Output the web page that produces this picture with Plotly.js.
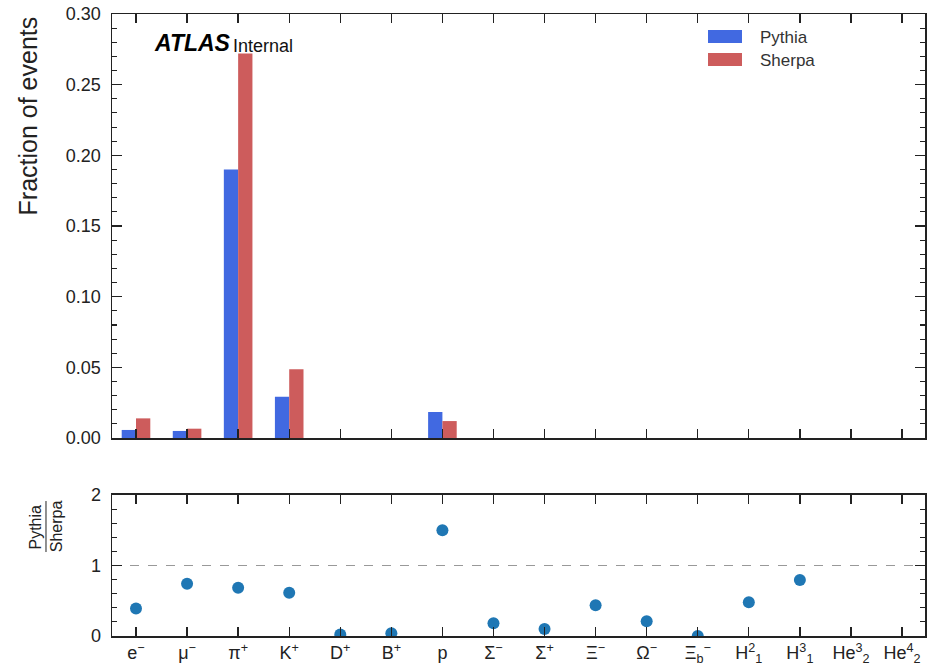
<!DOCTYPE html>
<html>
<head>
<meta charset="utf-8">
<script src="https://cdn.plot.ly/plotly-3.0.1.min.js"></script>
<style>html,body{margin:0;padding:0;background:#fff;}#chart{width:936px;height:670px;}</style>
</head>
<body>
<div id="chart"></div>
<script>
const categories = ["e<sup>−</sup>","μ<sup>−</sup>","π<sup>+</sup>","K<sup>+</sup>","D<sup>+</sup>","B<sup>+</sup>","p","Σ<sup>−</sup>","Σ<sup>+</sup>","Ξ<sup>−</sup>","Ω<sup>−</sup>","Ξ<sub>b</sub><sup>−</sup>","H<sup>2</sup><sub>1</sub>","H<sup>3</sup><sub>1</sub>","He<sup>3</sup><sub>2</sub>","He<sup>4</sup><sub>2</sub>"];
const pythia = [0.0057, 0.0050, 0.190, 0.0292, 0, 0, 0.0184, 0, 0, 0, 0, 0, 0, 0, 0, 0];
const sherpa = [0.0139, 0.0066, 0.272, 0.0486, 0, 0, 0.0120, 0, 0, 0, 0, 0, 0, 0, 0, 0];
const ratio = [0.39, 0.74, 0.685, 0.615, 0.02, 0.04, 1.50, 0.18, 0.10, 0.435, 0.21, 0.0, 0.48, 0.795, null, null];
const seriesNames = ["Pythia", "Sherpa"];
const seriesColors = ["#4169E1", "#CD5C5C"];
const yTopTicks = [0, 0.05, 0.10, 0.15, 0.20, 0.25, 0.30];
const yTopTickText = ["0.00","0.05","0.10","0.15","0.20","0.25","0.30"];
const yBotTicks = [0, 1, 2];

const idx = categories.map((c, i) => i);
const font = "Liberation Sans, Arial, Helvetica, sans-serif";
const frame = "#222";

const traces = [
  {type: "bar", name: seriesNames[0], x: idx, y: pythia, marker: {color: seriesColors[0]}, xaxis: "x", yaxis: "y"},
  {type: "bar", name: seriesNames[1], x: idx, y: sherpa, marker: {color: seriesColors[1]}, xaxis: "x", yaxis: "y"},
  {type: "scatter", mode: "markers", name: "ratio", x: idx, y: ratio,
   marker: {color: "#1f77b4", size: 12}, xaxis: "x2", yaxis: "y2", cliponaxis: true}
];

const xBase = {
  range: [-0.47, 15.45], showline: true, mirror: "allticks", linecolor: frame, linewidth: 1.5,
  ticks: "inside", ticklen: 9, tickwidth: 1.3, tickcolor: frame,
  tickvals: idx, showgrid: false, zeroline: false
};

// legend drawn as swatches + text (wide rectangular swatches like the reference)
const legShapes = [], legAnn = [];
const legY = [[0.9534, 0.9743, 0.963], [0.9164, 0.9373, 0.926]];
seriesNames.forEach((n, i) => {
  legShapes.push({type: "rect", xref: "paper", yref: "paper", x0: 0.7331, x1: 0.7749,
    y0: legY[i][0], y1: legY[i][1], fillcolor: seriesColors[i], line: {width: 0}});
  legAnn.push({xref: "paper", yref: "paper", x: 0.7945, y: legY[i][2], xanchor: "left", yanchor: "middle",
    text: n, showarrow: false, font: {size: 17, color: "#333"}});
});

const layout = {
  width: 936, height: 670,
  margin: {l: 112, r: 11, t: 14, b: 34},
  paper_bgcolor: "#fff", plot_bgcolor: "#fff",
  font: {family: font, color: "#222", size: 18},
  barmode: "group", bargap: 0.44, bargroupgap: 0,
  showlegend: false,
  xaxis: Object.assign({}, xBase, {domain: [0, 1], anchor: "y", showticklabels: false}),
  yaxis: {
    domain: [0.3183, 1], anchor: "x", range: [0, 0.30],
    showline: true, mirror: "allticks", linecolor: frame, linewidth: 1.5,
    ticks: "inside", ticklen: 10, tickwidth: 1.3, tickcolor: frame,
    tickvals: yTopTicks, ticktext: yTopTickText, ticklabelstandoff: 6,
    minor: {dtick: 0.01, ticks: "inside", ticklen: 5, tickcolor: frame, tickwidth: 1.1, showgrid: false},
    showgrid: false, zeroline: false, tickfont: {size: 18}
  },
  xaxis2: Object.assign({}, xBase, {domain: [0, 1], anchor: "y2", showticklabels: true,
    ticktext: categories, tickfont: {size: 18}}),
  yaxis2: {
    domain: [0, 0.2267], anchor: "x2", range: [0, 2],
    showline: true, mirror: "allticks", linecolor: frame, linewidth: 1.5,
    ticks: "inside", ticklen: 10, tickwidth: 1.3, tickcolor: frame,
    tickvals: yBotTicks, ticklabelstandoff: 6,
    minor: {dtick: 0.2, ticks: "inside", ticklen: 5, tickcolor: frame, tickwidth: 1.1, showgrid: false},
    showgrid: false, zeroline: false, tickfont: {size: 18}
  },
  shapes: [
    {type: "line", xref: "x2 domain", yref: "y2", x0: 0, x1: 1, y0: 1, y1: 1,
     line: {color: "#999", width: 1.2, dash: "dash"}, layer: "below"},
    {type: "line", xref: "paper", yref: "paper", x0: -0.0812, x1: -0.0812, y0: 0.135, y1: 0.217,
     line: {color: "#222", width: 1}}
  ].concat(legShapes),
  annotations: [
    {xref: "paper", yref: "paper", x: -0.1033, y: 0.9985, xanchor: "center", yanchor: "top",
     text: "Fraction of events", textangle: -90, showarrow: false, font: {size: 25, color: "#222"}},
    {xref: "paper", yref: "paper", x: 0.0495, y: 0.9526, xanchor: "left", yanchor: "middle",
     text: "<b><i>ATLAS</i></b>", showarrow: false, font: {size: 23, color: "#000"}},
    {xref: "paper", yref: "paper", x: 0.1465, y: 0.948, xanchor: "left", yanchor: "middle",
     text: "Internal", showarrow: false, font: {size: 18, color: "#111"}},
    {xref: "paper", yref: "paper", x: -0.0935, y: 0.176, xanchor: "center", yanchor: "middle",
     text: "Pythia", textangle: -90, showarrow: false, font: {size: 16, color: "#222"}},
    {xref: "paper", yref: "paper", x: -0.068, y: 0.176, xanchor: "center", yanchor: "middle",
     text: "Sherpa", textangle: -90, showarrow: false, font: {size: 16, color: "#222"}}
  ].concat(legAnn)
};

Plotly.newPlot("chart", traces, layout, {displayModeBar: false, staticPlot: true});
</script>
</body>
</html>
